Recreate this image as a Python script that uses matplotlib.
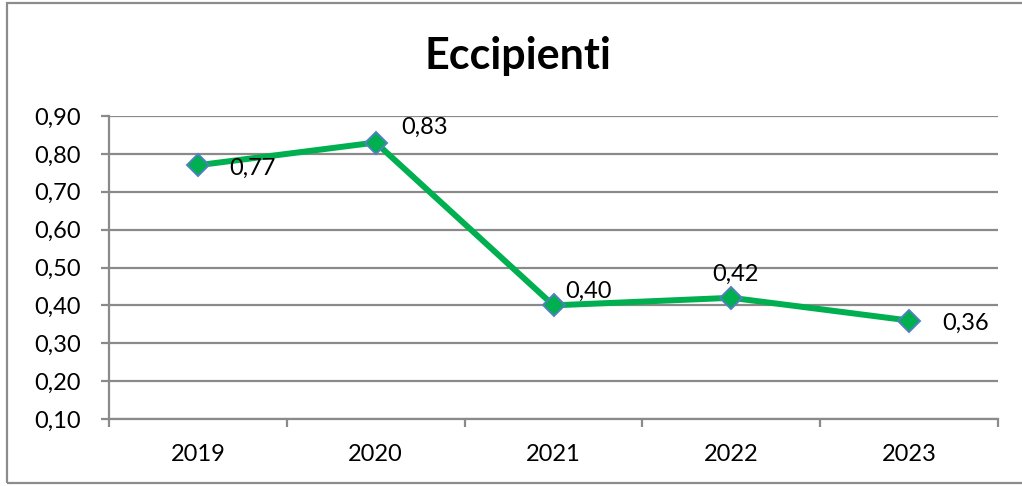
import matplotlib
matplotlib.use("Agg")
import matplotlib.pyplot as plt
from matplotlib.patches import Rectangle

years = ["2019", "2020", "2021", "2022", "2023"]
values = [0.77, 0.83, 0.40, 0.42, 0.36]
labels = ["0,77", "0,83", "0,40", "0,42", "0,36"]
yticks = [0.10, 0.20, 0.30, 0.40, 0.50, 0.60, 0.70, 0.80, 0.90]
label_offsets = [(31, -3), (26, 15), (12, 14), (-19, 23), (33, -3)]

plt.rcParams["font.family"] = ["Lato", "DejaVu Sans"]

W, H = 1022, 486
fig = plt.figure(figsize=(W / 100, H / 100), dpi=100)

# outer frame of the chart area
fig.patches.append(Rectangle((7 / W, 3 / H), 1.2, 1 - 6 / H, transform=fig.transFigure,
                             fill=False, edgecolor="#8c8c8c", linewidth=1.6, zorder=0))

ax = fig.add_axes([109 / W, 1 - 419 / H, (998 - 109) / W, (419 - 116) / H])
grid_col = "#8a8a8a"
fs = 17

x = list(range(len(years)))
ax.plot(x, values, color="#00B050", linewidth=4.3, marker="D", markersize=11,
        markerfacecolor="#00B050", markeredgecolor="#4F81BD", markeredgewidth=1.4,
        zorder=3, solid_joinstyle="miter")

for xi, v, lab, (dx, dy) in zip(x, values, labels, label_offsets):
    ax.annotate(lab, (xi, v), xytext=(dx, dy), textcoords="offset pixels",
                ha="left", va="center", fontsize=fs, color="black", zorder=4)

ax.set_xlim(-0.5, len(years) - 0.5)
ax.set_ylim(0.10, 0.90)
ax.set_yticks(yticks)
ax.set_yticklabels([f"{t:.2f}".replace(".", ",") for t in yticks], fontsize=fs)
ax.set_xticks(x)
ax.set_xticklabels(years, fontsize=fs)
ax.set_xticks([i - 0.5 for i in range(len(years) + 1)], minor=True)
ax.tick_params(axis="x", which="major", length=0, pad=18)
ax.tick_params(axis="x", which="minor", length=5.5, width=1.6, color=grid_col, direction="out")
ax.tick_params(axis="y", length=5.5, width=1.6, color=grid_col, direction="out", pad=15)

ax.grid(axis="y", color=grid_col, linewidth=1.6)
ax.set_axisbelow(True)
for side in ("top", "right"):
    ax.spines[side].set_visible(False)
for side in ("left", "bottom"):
    ax.spines[side].set_color(grid_col)
    ax.spines[side].set_linewidth(1.6)

fig.text(518 / W, 1 - 56 / H, "Eccipienti", ha="center", va="center",
         fontsize=31, fontweight="bold")

fig.savefig("out.png", dpi=100)
